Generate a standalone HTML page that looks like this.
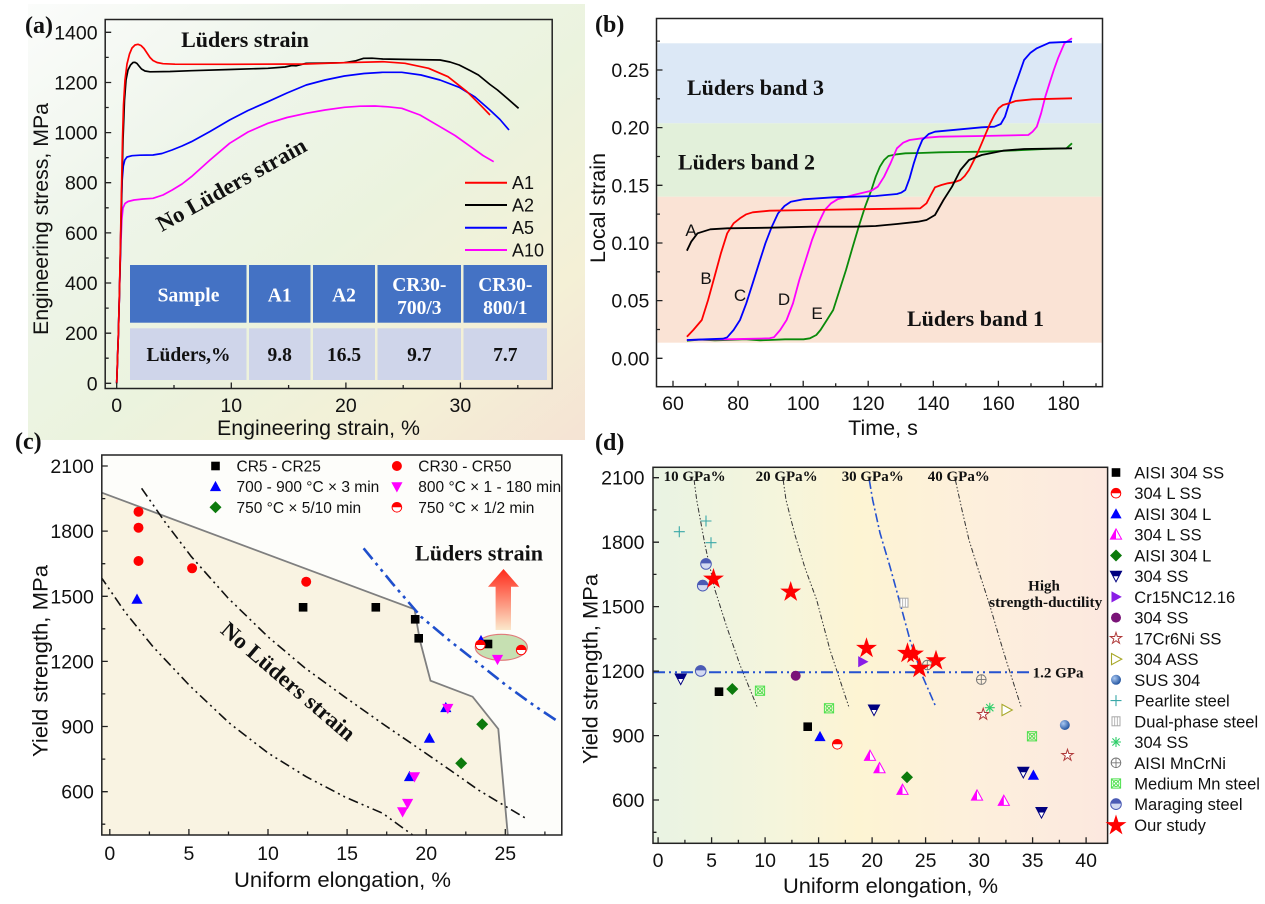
<!DOCTYPE html>
<html><head><meta charset="utf-8">
<style>
html,body{margin:0;padding:0;background:#fff;}
svg{display:block;}
.tk{font-family:"Liberation Sans",sans-serif;font-size:19.5px;fill:#111;}
.tt{font-family:"Liberation Sans",sans-serif;font-size:21.5px;fill:#111;}
.bs{font-family:"Liberation Serif",serif;font-weight:bold;fill:#111;}
.lg{font-family:"Liberation Sans",sans-serif;fill:#111;}
</style></head>
<body>
<svg width="1265" height="904" viewBox="0 0 1265 904" xmlns="http://www.w3.org/2000/svg">
<defs>
  <linearGradient id="bgA" x1="0" y1="0" x2="1" y2="1">
    <stop offset="0" stop-color="#fbfcfb"/>
    <stop offset="0.3" stop-color="#eef5ea"/>
    <stop offset="0.55" stop-color="#ebf3de"/>
    <stop offset="0.8" stop-color="#f4f0d6"/>
    <stop offset="1" stop-color="#f5e3d4"/>
  </linearGradient>
  <linearGradient id="bgD" x1="0" y1="0" x2="1" y2="0">
    <stop offset="0" stop-color="#e9f3e3"/>
    <stop offset="0.28" stop-color="#f5f5dc"/>
    <stop offset="0.45" stop-color="#fdf4d3"/>
    <stop offset="0.72" stop-color="#fdefdc"/>
    <stop offset="1" stop-color="#fce8df"/>
  </linearGradient>
  <linearGradient id="arr" x1="0" y1="0" x2="0" y2="1">
    <stop offset="0" stop-color="#ff2a1a"/>
    <stop offset="1" stop-color="#fbe9cc"/>
  </linearGradient>
  <radialGradient id="sph" cx="0.35" cy="0.35" r="0.7">
    <stop offset="0" stop-color="#a9c8f2"/>
    <stop offset="1" stop-color="#1d4f9c"/>
  </radialGradient>
  <clipPath id="clipC"><rect x="101.8" y="455" width="460" height="380"/></clipPath>
  <clipPath id="clipD"><rect x="653" y="467.3" width="454.6" height="376"/></clipPath>

  <g id="msq"><rect x="-4.3" y="-4.3" width="8.6" height="8.6" fill="#000"/></g>
  <g id="mci"><circle r="5" fill="#ff0000"/></g>
  <g id="mtu"><polygon points="0,-5.8 5.6,4.4 -5.6,4.4" fill="#0000ff"/></g>
  <g id="mtd"><polygon points="-5.6,-4.4 5.6,-4.4 0,5.8" fill="#ff00ff"/></g>
  <g id="mdi"><polygon points="0,-6 6,0 0,6 -6,0" fill="#0c7a0c"/></g>
  <g id="mhc"><circle r="4.8" fill="#fff" stroke="#ff0000" stroke-width="1"/><path d="M-4.8,0 A4.8,4.8 0 0 1 4.8,0 Z" fill="#ff0000"/></g>
  <g id="mht"><polygon points="0,-5.8 5.6,4.4 -5.6,4.4" fill="#fff" stroke="#ff00ff" stroke-width="1"/><polygon points="0,-5.8 0,4.4 -5.6,4.4" fill="#ff00ff"/></g>
  <g id="mnd"><polygon points="-5.6,-5 5.6,-5 0,5.6" fill="#fff" stroke="#000080" stroke-width="1"/><polygon points="-5.6,-5 5.6,-5 2.9,0 -2.9,0" fill="#000080"/></g>
  <g id="mpr"><polygon points="-4.5,-5.6 5.8,0 -4.5,5.6" fill="#8a1ee6"/></g>
  <g id="mpc"><circle r="5" fill="#7a1478"/></g>
  <g id="mos"><polygon points="0,-6 1.35,-1.85 5.71,-1.85 2.18,0.71 3.53,4.85 0,2.29 -3.53,4.85 -2.18,0.71 -5.71,-1.85 -1.35,-1.85" fill="#fff" stroke="#b03a3a" stroke-width="1"/></g>
  <g id="mor"><polygon points="-4.5,-5.6 5.8,0 -4.5,5.6" fill="#fff" stroke="#a8a82a" stroke-width="1.1"/></g>
  <g id="msp"><circle r="5" fill="url(#sph)"/></g>
  <g id="mpl"><path d="M-5.5,0H5.5M0,-5.5V5.5" stroke="#3aa8a8" stroke-width="1.1"/></g>
  <g id="mdp"><rect x="-4" y="-4.5" width="8" height="9" fill="#fff" stroke="#a8a8a8" stroke-width="1"/><path d="M-1.3,-4.5V4.5M1.3,-4.5V4.5" stroke="#a8a8a8" stroke-width="0.8"/></g>
  <g id="mas"><path d="M-5,0H5M0,-5V5M-3.6,-3.6L3.6,3.6M-3.6,3.6L3.6,-3.6" stroke="#2fce6a" stroke-width="1.1"/></g>
  <g id="mop"><circle r="4.8" fill="none" stroke="#777" stroke-width="1"/><path d="M-4.8,0H4.8M0,-4.8V4.8" stroke="#777" stroke-width="0.9"/></g>
  <g id="mmn"><rect x="-4.6" y="-4.6" width="9.2" height="9.2" fill="none" stroke="#4be04b" stroke-width="1"/><path d="M-4.6,-4.6L4.6,4.6M-4.6,4.6L4.6,-4.6" stroke="#4be04b" stroke-width="0.9"/><circle r="3" fill="none" stroke="#4be04b" stroke-width="0.9"/></g>
  <g id="mma"><circle r="5.3" fill="#d3daf1" stroke="#4b5bb5" stroke-width="1"/><path d="M-5.3,-0.6 A5.3,5.3 0 0 1 5.3,-0.6 Z" fill="#4b5bb5"/></g>
  <g id="mst"><polygon points="0,-11 2.47,-3.4 10.46,-3.4 4,1.3 6.47,8.9 0,4.2 -6.47,8.9 -4,1.3 -10.46,-3.4 -2.47,-3.4" fill="#ff0000"/></g>
</defs>

<!-- ================= PANEL (a) ================= -->
<rect x="28" y="4" width="557" height="436" fill="url(#bgA)"/>
<text class="bs" x="25" y="33" font-size="24">(a)</text>
<g fill="none" stroke-width="1.7" stroke-linejoin="round">
<path stroke="#ff00ff" d="M116.7,383.3 L118.5,330 L119.8,280 L120.8,245 L121.8,220 L123,208 L125,203.5 L128,201.5 L134,200 L143,199 L153,198.3 L163,195 L172.2,190 L182,184 L191.4,176.7 L210,160 L229.6,143.3 L248,132 L267.9,123.3 L287,117.5 L306.2,113.3 L325,110 L344.4,107.3 L360,106.2 L375,106 L388,106.8 L401.8,108.3 L420,115 L440,126.7 L455,135.5 L470.7,146.7 L483,155.5 L493.7,161.7"/>
<path stroke="#0000ff" d="M116.7,383.3 L118.5,330 L120,270 L121.2,215 L122.2,180 L123.3,166 L124.8,160 L127,157 L132,155.7 L140,155.2 L153,155 L162,153.5 L172,150 L182,146 L191.4,141.7 L210,131.5 L229.6,120 L248,110.5 L267.9,101.7 L287,93 L306.2,85 L325,80 L344.4,76 L364,73.5 L382.7,72.3 L401.8,72.3 L421,75 L440,80 L459.2,87.3 L475,97 L489.9,110 L500,119.5 L509,130"/>
<path stroke="#000" d="M116.7,383.3 L118.5,330 L120,270 L121.5,200 L123,140 L124.5,100 L126,80 L128,70 L130.5,65 L133,62.5 L135,62.3 L137,63.5 L139,66 L141.5,69 L145,71 L150,71.8 L170,71.5 L191.4,70.7 L230,69.5 L267.9,68.3 L285,67 L292,65.5 L296,65.8 L306.2,63.3 L344.4,62.7 L355,61 L363.6,58.3 L372,58.2 L382.7,59 L410,59.5 L440.1,60 L450,62 L459.2,65 L470,70.5 L478.4,75 L490,84.5 L497.5,90 L508,99 L518.6,108.3"/>
<path stroke="#ff0000" d="M116.7,383.3 L118.5,330 L119.5,290 L120.5,240 L121.5,190 L122.5,140 L123.5,105 L125,80 L127,64 L129.5,54 L132,48 L135,45 L138,44.3 L141,45.5 L144,48.5 L147,53 L150,57.5 L153,60.5 L157,62.5 L163,63.7 L175,64.2 L230,64.3 L306,64 L344,62.7 L383,61.7 L405,63.3 L428.6,68.3 L448,76.7 L467,91.7 L482,106.7 L490,115"/>
</g>
<g stroke-width="2">
<line x1="465" y1="182.7" x2="507" y2="182.7" stroke="#ff0000"/>
<line x1="465" y1="205" x2="507" y2="205" stroke="#000"/>
<line x1="465" y1="227.7" x2="507" y2="227.7" stroke="#0000ff"/>
<line x1="465" y1="250" x2="507" y2="250" stroke="#ff00ff"/>
</g>
<g class="lg" font-size="18">
<text x="512" y="189">A1</text><text x="512" y="211.5">A2</text><text x="512" y="234">A5</text><text x="512" y="256.5">A10</text>
</g>
<text class="bs" x="245" y="47" font-size="22" text-anchor="middle">Lüders strain</text>
<text class="bs" font-size="22.5" text-anchor="middle" transform="translate(231.6,185) rotate(-29.2)" y="7" textLength="168" lengthAdjust="spacingAndGlyphs">No Lüders strain</text>
<g>
<rect x="130" y="265" width="116.5" height="57.7" fill="#4472c4"/>
<rect x="249" y="265" width="61.5" height="57.7" fill="#4472c4"/>
<rect x="313" y="265" width="62" height="57.7" fill="#4472c4"/>
<rect x="377.5" y="265" width="83.5" height="57.7" fill="#4472c4"/>
<rect x="463.5" y="265" width="83.5" height="57.7" fill="#4472c4"/>
<rect x="130" y="328.3" width="116.5" height="51.7" fill="#cfd5ea"/>
<rect x="249" y="328.3" width="61.5" height="51.7" fill="#cfd5ea"/>
<rect x="313" y="328.3" width="62" height="51.7" fill="#cfd5ea"/>
<rect x="377.5" y="328.3" width="83.5" height="51.7" fill="#cfd5ea"/>
<rect x="463.5" y="328.3" width="83.5" height="51.7" fill="#cfd5ea"/>
</g>
<g class="bs" font-size="19.5" text-anchor="middle" style="fill:#fff">
<text x="188.5" y="301.5">Sample</text>
<text x="279.7" y="301.5">A1</text>
<text x="344" y="301.5">A2</text>
<text x="419.3" y="291">CR30-</text><text x="419.3" y="314">700/3</text>
<text x="505.3" y="291">CR30-</text><text x="505.3" y="314">800/1</text>
</g>
<g class="bs" font-size="19.5" text-anchor="middle">
<text x="188.5" y="361">Lüders,%</text>
<text x="279.7" y="361">9.8</text>
<text x="344" y="361">16.5</text>
<text x="419.3" y="361">9.7</text>
<text x="505.3" y="361">7.7</text>
</g>
<rect x="105.2" y="19.5" width="447" height="369" fill="none" stroke="#222" stroke-width="1.5"/>
<path stroke="#222" stroke-width="1.3" fill="none" d="M116.7,388.5v-6M231.3,388.5v-6M345.9,388.5v-6M460.4,388.5v-6M174,388.5v-3.5M288.6,388.5v-3.5M403.2,388.5v-3.5M517.8,388.5v-3.5M105.2,383.3h6M105.2,333.2h6M105.2,283h6M105.2,232.9h6M105.2,182.7h6M105.2,132.6h6M105.2,82.5h6M105.2,32.3h6M105.2,358.2h3.5M105.2,308.1h3.5M105.2,258h3.5M105.2,207.8h3.5M105.2,157.7h3.5M105.2,107.5h3.5M105.2,57.4h3.5"/>
<g class="tk" text-anchor="end">
<text x="97.6" y="390.3">0</text><text x="97.6" y="340.2">200</text><text x="97.6" y="290">400</text><text x="97.6" y="239.9">600</text><text x="97.6" y="189.7">800</text><text x="97.6" y="139.6">1000</text><text x="97.6" y="89.5">1200</text><text x="97.6" y="39.3">1400</text>
</g>
<g class="tk" text-anchor="middle">
<text x="116.7" y="412">0</text><text x="231.3" y="412">10</text><text x="345.9" y="412">20</text><text x="460.4" y="412">30</text>
</g>
<text class="tt" x="318.5" y="435" text-anchor="middle" textLength="203" lengthAdjust="spacingAndGlyphs">Engineering strain, %</text>
<text class="tt" text-anchor="middle" transform="translate(48,219) rotate(-90)" textLength="232" lengthAdjust="spacingAndGlyphs">Engineering stress, MPa</text>

<!-- ================= PANEL (b) ================= -->
<text class="bs" x="595" y="32" font-size="24">(b)</text>
<rect x="657.5" y="43.3" width="444.5" height="80" fill="#dce8f6"/>
<rect x="657.5" y="123.3" width="444.5" height="73.4" fill="#e2f0da"/>
<rect x="657.5" y="196.7" width="444.5" height="146" fill="#fae3d5"/>
<text class="bs" x="687" y="95" font-size="22">Lüders band 3</text>
<text class="bs" x="678" y="169.3" font-size="22">Lüders band 2</text>
<text class="bs" x="907" y="326" font-size="22">Lüders band 1</text>
<g fill="none" stroke-width="1.8" stroke-linejoin="round">
<path stroke="#0a8a0a" d="M686.9,340.7 L700,339.6 L715,340.4 L727.2,340 L745,339.2 L760,340.3 L769.6,340 L785,339.3 L803.6,339.3 L809.9,338.3 L816.3,335 L820.5,330 L826.9,320 L833.2,310 L839.6,290 L846,270 L852.3,248.3 L858.7,226.7 L865.1,206.7 L871.4,190 L875.7,176.7 L879.9,166.7 L884.1,160 L888.4,156 L896.9,154.3 L905.3,153.3 L920,153 L939.3,152.3 L960,152 L981.7,151.7 L1000,151 L1024.1,150 L1045,149 L1066.5,148.3 L1072,143.3"/>
<path stroke="#ff00ff" d="M686.9,340 L705,339.5 L727.2,339.3 L750,338.8 L769.6,338.3 L773.9,337.3 L780.2,330 L786.6,320 L793,303.3 L799.3,280 L805.7,260 L812,240 L818.4,223.3 L824.8,210 L831.1,203.3 L837.5,199.3 L854.5,194.7 L871.4,190.7 L877.8,186.7 L884.1,176.7 L890.5,163.3 L896.9,148.3 L903.2,142.7 L909.6,140 L926.5,137.7 L939.3,136.7 L981.7,136 L1028.3,135 L1032.6,131.7 L1036.8,126.7 L1041.1,113.3 L1045.3,96.7 L1049.5,83.3 L1053.8,70 L1058,58.3 L1064.4,43.3 L1072,38.3"/>
<path stroke="#0000ff" d="M686.9,340 L706,339.3 L723,338.7 L727.2,337.3 L733.6,330 L740,320 L746.3,303.3 L752.7,283.3 L759,263.3 L765.4,243.3 L771.8,226.7 L778.1,213.3 L784.5,206 L790.8,201.7 L803.6,199.3 L833.2,197.3 L875.7,196 L896.9,194 L901.1,192.7 L905.3,190 L909.6,178.3 L913.8,163.3 L918.1,150 L922.3,140 L928.7,134 L935,131.7 L960.5,129.3 L981.7,127.3 L994.4,126.7 L1000.8,124 L1005,116.7 L1009.2,103.3 L1013.5,90 L1017.7,78.3 L1024.1,60 L1030.5,52.7 L1036.8,48.3 L1049.5,42.7 L1072,41.7"/>
<path stroke="#ff0000" d="M686.9,336.7 L693.3,330 L701.8,320 L708.1,300 L714.5,276.7 L720.9,253.3 L727.2,233.3 L733.6,223.3 L740,218.3 L746.3,214.3 L752.7,212.3 L769.6,210.7 L812,210 L854.5,209.3 L896.9,208.7 L920.2,208.3 L926.5,203.3 L930.8,195 L935,187.3 L941.4,185 L947.8,183.3 L954.1,182.3 L960.5,180 L964.7,176 L969,170 L973.2,161.7 L977.4,153.3 L981.7,143.3 L985.9,133.3 L990.2,123.3 L994.4,115 L998.6,108.3 L1002.9,105 L1009.2,103.3 L1015.6,101 L1032.6,99.3 L1072,98.3"/>
<path stroke="#000" d="M686.9,250.7 L691.2,241.7 L697.5,233.3 L710.3,229.3 L727.2,228.3 L769.6,227.7 L812,226.7 L854.5,226.7 L875.7,226 L896.9,224 L918.1,221.7 L926.5,220 L935,215 L943.5,200 L952,186.7 L960.5,170 L969,160 L981.7,155 L1002.9,150.7 L1024.1,149 L1072,148.3"/>
</g>
<g class="lg" font-size="17" text-anchor="middle">
<text x="691" y="236">A</text><text x="706" y="284">B</text><text x="740" y="301">C</text><text x="784" y="305">D</text><text x="817" y="319">E</text>
</g>
<rect x="656.5" y="18.5" width="446" height="368.2" fill="none" stroke="#222" stroke-width="1.5"/>
<path stroke="#222" stroke-width="1.3" fill="none" d="M673,386.7v-6M738.1,386.7v-6M803.2,386.7v-6M868.2,386.7v-6M933.3,386.7v-6M998.4,386.7v-6M1063.5,386.7v-6M705.5,386.7v-3.5M770.6,386.7v-3.5M835.7,386.7v-3.5M900.8,386.7v-3.5M965.9,386.7v-3.5M1031,386.7v-3.5M1096,386.7v-3.5M656.5,358.3h6M656.5,300.6h6M656.5,243h6M656.5,185.3h6M656.5,127.6h6M656.5,70h6M656.5,329.5h3.5M656.5,271.8h3.5M656.5,214.1h3.5M656.5,156.5h3.5M656.5,98.8h3.5M656.5,41.1h3.5"/>
<g class="tk" text-anchor="end">
<text x="649.3" y="365.3">0.00</text><text x="649.3" y="307.6">0.05</text><text x="649.3" y="250">0.10</text><text x="649.3" y="192.3">0.15</text><text x="649.3" y="134.6">0.20</text><text x="649.3" y="77">0.25</text>
</g>
<g class="tk" text-anchor="middle">
<text x="673" y="410">60</text><text x="738.1" y="410">80</text><text x="803.2" y="410">100</text><text x="868.2" y="410">120</text><text x="933.3" y="410">140</text><text x="998.4" y="410">160</text><text x="1063.5" y="410">180</text>
</g>
<text class="tt" x="883" y="435" text-anchor="middle">Time, s</text>
<text class="tt" text-anchor="middle" transform="translate(605,208) rotate(-90)" textLength="110" lengthAdjust="spacingAndGlyphs">Local strain</text>

<!-- ================= PANEL (c) ================= -->
<text class="bs" x="15" y="449" font-size="24">(c)</text>
<g clip-path="url(#clipC)">
<rect x="101.8" y="455" width="460" height="380" fill="#fdfdfa"/>
<polygon points="101.8,492.7 414.5,609.3 419.8,640 430.5,680.7 472.6,696.7 498.3,729 507.8,835 101.8,835" fill="#f9f3e2"/>
<polyline points="101.8,492.7 414.5,609.3 419.8,640 430.5,680.7 472.6,696.7 498.3,729 507.8,835" fill="none" stroke="#7f7f7f" stroke-width="1.8"/>
<polyline points="141.6,488.3 165,522 191.4,556.7 228,598 267.9,636.7 305,668 344.4,696.7 383,724 421,750 450,770 478.4,790 505,806 527.4,819.3" fill="none" stroke="#111" stroke-width="1.6" stroke-dasharray="10 4 2 4 2 4"/>
<polyline points="100.3,576 125,612 153,646.7 190,686 229.6,723.3 268,753 306.2,776.7 345,797 382.7,813.3 412.6,835" fill="none" stroke="#111" stroke-width="1.6" stroke-dasharray="10 4 2 4 2 4"/>
<polyline points="363.6,548.3 392,583 421,616.7 450,641 478.4,663.3 507,686 535.8,706.7 556.8,720.7" fill="none" stroke="#1f4fcc" stroke-width="2.6" stroke-dasharray="14 5 3 5 3 5"/>
</g>
<text class="bs" x="415" y="560.5" font-size="22" textLength="128" lengthAdjust="spacingAndGlyphs">Lüders strain</text>
<polygon points="503.5,569 519,586.7 511,586.7 511,630 495.6,630 495.6,586.7 488,586.7" fill="url(#arr)"/>
<ellipse cx="501.3" cy="647.3" rx="26" ry="13" fill="#c6e0b2" stroke="#e07a7a" stroke-width="1.2"/>
<text class="bs" font-size="22.5" text-anchor="middle" transform="translate(288,681.7) rotate(40.7)" y="7" textLength="169" lengthAdjust="spacingAndGlyphs">No Lüders strain</text>
<g>
<use href="#mci" x="138.5" y="511.7"/><use href="#mci" x="138.5" y="527.7"/><use href="#mci" x="138.5" y="561"/><use href="#mci" x="192.1" y="568.3"/><use href="#mci" x="306.2" y="581.7"/>
<use href="#mtu" x="137" y="599.3"/><use href="#mtu" x="429.4" y="738.3"/><use href="#mtu" x="409.5" y="776.7"/><use href="#mtu" x="445.8" y="707.7"/><use href="#mtu" x="481" y="640.7"/>
<use href="#msq" x="303.1" y="607.3"/><use href="#msq" x="375.8" y="607.3"/><use href="#msq" x="415.2" y="619.3"/><use href="#msq" x="418.7" y="638.3"/><use href="#msq" x="488" y="644"/>
<use href="#mtd" x="447.8" y="708.3"/><use href="#mtd" x="414.5" y="776.7"/><use href="#mtd" x="407.6" y="803.3"/><use href="#mtd" x="402.6" y="811.7"/><use href="#mtd" x="497.5" y="659.3"/>
<use href="#mdi" x="482.2" y="724.3"/><use href="#mdi" x="461.2" y="763.3"/>
<use href="#mhc" x="480.3" y="645"/><use href="#mhc" x="521.2" y="650"/>
</g>
<use href="#msq" x="215.5" y="466"/><use href="#mci" x="396.9" y="466"/>
<use href="#mtu" x="215.5" y="486.7"/><use href="#mtd" x="396.9" y="486.7"/>
<use href="#mdi" x="215.5" y="507.3"/><use href="#mhc" x="396.9" y="507.3"/>
<g class="lg" font-size="15.5">
<text x="236.5" y="471.5">CR5 - CR25</text><text x="418.3" y="471.5">CR30 - CR50</text>
<text x="236.5" y="492.2">700 - 900 °C × 3 min</text><text x="418.3" y="492.2">800 °C × 1 - 180 min</text>
<text x="236.5" y="512.8">750 °C × 5/10 min</text><text x="418.3" y="512.8">750 °C × 1/2 min</text>
</g>
<rect x="101.8" y="455" width="460" height="380" fill="none" stroke="#222" stroke-width="1.5"/>
<path stroke="#222" stroke-width="1.3" fill="none" d="M109.8,835v-6M188.9,835v-6M268,835v-6M347.1,835v-6M426.2,835v-6M505.3,835v-6M149.4,835v-3.5M228.5,835v-3.5M307.6,835v-3.5M386.7,835v-3.5M465.8,835v-3.5M544.9,835v-3.5M101.8,466h6M101.8,531.1h6M101.8,596.3h6M101.8,661.4h6M101.8,726.5h6M101.8,791.7h6M101.8,498.6h3.5M101.8,563.7h3.5M101.8,628.8h3.5M101.8,693.9h3.5M101.8,759.1h3.5M101.8,824.2h3.5"/>
<g class="tk" text-anchor="end">
<text x="93.8" y="473">2100</text><text x="93.8" y="538.1">1800</text><text x="93.8" y="603.3">1500</text><text x="93.8" y="668.4">1200</text><text x="93.8" y="733.5">900</text><text x="93.8" y="798.7">600</text>
</g>
<g class="tk" text-anchor="middle">
<text x="109.8" y="860">0</text><text x="188.9" y="860">5</text><text x="268" y="860">10</text><text x="347.1" y="860">15</text><text x="426.2" y="860">20</text><text x="505.3" y="860">25</text>
</g>
<text class="tt" x="342.5" y="887" text-anchor="middle" textLength="217" lengthAdjust="spacingAndGlyphs">Uniform elongation, %</text>
<text class="tt" text-anchor="middle" transform="translate(47.5,661) rotate(-90)" textLength="192" lengthAdjust="spacingAndGlyphs">Yield strength, MPa</text>

<!-- ================= PANEL (d) ================= -->
<text class="bs" x="595" y="450" font-size="24">(d)</text>
<g clip-path="url(#clipD)">
<rect x="653" y="467.3" width="454.6" height="376" fill="url(#bgD)"/>
<polyline points="694.1,480 696.7,500 705,545 715,590 726.7,626.7 740,665 757.3,707.3" fill="none" stroke="#333" stroke-width="1" stroke-dasharray="5 2 1.5 2 1.5 2"/>
<polyline points="783.2,480 786,500 795,535 805,568 816.7,600 830,650 849.3,708.3" fill="none" stroke="#333" stroke-width="1" stroke-dasharray="5 2 1.5 2 1.5 2"/>
<polyline points="869.3,480 872.7,500 880,533 890,566.7 900,603 910,640 922,675 936,707.3" fill="none" stroke="#2552d0" stroke-width="1.6" stroke-dasharray="9 3 2 3"/>
<polyline points="955.4,480 962,510 969,540 980,575 990.2,606.7 1000,640 1007.1,663.3 1021.1,706.7" fill="none" stroke="#333" stroke-width="1" stroke-dasharray="5 2 1.5 2 1.5 2"/>
<line x1="653" y1="672.3" x2="1030.5" y2="672.3" stroke="#2552d0" stroke-width="2" stroke-dasharray="12 4 2 4 2 4"/>
</g>
<g class="bs" font-size="15">
<text x="663.6" y="481" textLength="62" lengthAdjust="spacingAndGlyphs">10 GPa%</text>
<text x="755.6" y="481" textLength="62" lengthAdjust="spacingAndGlyphs">20 GPa%</text>
<text x="841.7" y="481" textLength="62" lengthAdjust="spacingAndGlyphs">30 GPa%</text>
<text x="927.8" y="481" textLength="62" lengthAdjust="spacingAndGlyphs">40 GPa%</text>
<text x="1044" y="590.5" text-anchor="middle">High</text>
<text x="1045.7" y="607" text-anchor="middle" textLength="113" lengthAdjust="spacingAndGlyphs">strength-ductility</text>
<text x="1032.6" y="677.5" textLength="51" lengthAdjust="spacingAndGlyphs">1.2 GPa</text>
</g>
<g>
<use href="#mpl" x="679.3" y="531.7"/><use href="#mpl" x="706" y="521"/><use href="#mpl" x="711" y="542.7"/>
<use href="#mma" x="706" y="564"/><use href="#mma" x="702.7" y="585.7"/><use href="#mma" x="700.7" y="671"/>
<use href="#mnd" x="680.7" y="679"/><use href="#mnd" x="874" y="710"/><use href="#mnd" x="1023.3" y="772.3"/><use href="#mnd" x="1041.5" y="812.5"/>
<use href="#mpc" x="795.7" y="675.7"/>
<use href="#mpr" x="862.7" y="661.7"/>
<use href="#msq" x="719" y="691.7"/><use href="#msq" x="807.7" y="726.7"/>
<use href="#mdi" x="732.3" y="689"/><use href="#mdi" x="907" y="777.3"/>
<use href="#mmn" x="760" y="690.7"/><use href="#mmn" x="829" y="708.3"/><use href="#mmn" x="1032" y="736.3"/>
<use href="#mtu" x="820" y="736.7"/><use href="#mtu" x="1033.4" y="775.3"/>
<use href="#mhc" x="837.3" y="744.3"/>
<use href="#mht" x="870" y="756"/><use href="#mht" x="879.5" y="768.3"/><use href="#mht" x="902.5" y="790"/><use href="#mht" x="977" y="795.7"/><use href="#mht" x="1003.8" y="801"/>
<use href="#mdp" x="904" y="602.7"/>
<use href="#mop" x="927.3" y="665"/><use href="#mop" x="981.3" y="679.6"/>
<use href="#mos" x="983.2" y="714.3"/><use href="#mos" x="1067.5" y="755.3"/>
<use href="#mas" x="989.8" y="707.7"/>
<use href="#mor" x="1006.5" y="710"/>
<use href="#msp" x="1064.8" y="725"/>
<use href="#mst" x="713.5" y="579"/><use href="#mst" x="790.7" y="592"/><use href="#mst" x="866.5" y="648.3"/><use href="#mst" x="907.5" y="653.3"/><use href="#mst" x="913.5" y="654"/><use href="#mst" x="936" y="660.7"/><use href="#mst" x="919.5" y="668.3"/>
</g>
<rect x="653" y="467.3" width="454.6" height="376" fill="none" stroke="#222" stroke-width="1.5"/>
<path stroke="#222" stroke-width="1.3" fill="none" d="M658.1,843.3v-6M711.6,843.3v-6M765.1,843.3v-6M818.6,843.3v-6M872.1,843.3v-6M925.6,843.3v-6M979.1,843.3v-6M1032.6,843.3v-6M1086.1,843.3v-6M684.9,843.3v-3.5M738.4,843.3v-3.5M791.9,843.3v-3.5M845.4,843.3v-3.5M898.9,843.3v-3.5M952.4,843.3v-3.5M1005.9,843.3v-3.5M1059.4,843.3v-3.5M653,477.7h6M653,542.2h6M653,606.6h6M653,671.1h6M653,735.6h6M653,800h6M653,509.9h3.5M653,574.4h3.5M653,638.9h3.5M653,703.4h3.5M653,767.8h3.5M653,832.3h3.5"/>
<g class="tk" text-anchor="end">
<text x="644.5" y="484.7">2100</text><text x="644.5" y="549.2">1800</text><text x="644.5" y="613.6">1500</text><text x="644.5" y="678.1">1200</text><text x="644.5" y="742.6">900</text><text x="644.5" y="807">600</text>
</g>
<g class="tk" text-anchor="middle">
<text x="658.1" y="867">0</text><text x="711.6" y="867">5</text><text x="765.1" y="867">10</text><text x="818.6" y="867">15</text><text x="872.1" y="867">20</text><text x="925.6" y="867">25</text><text x="979.1" y="867">30</text><text x="1032.6" y="867">35</text><text x="1086.1" y="867">40</text>
</g>
<text class="tt" x="890.5" y="893" text-anchor="middle" textLength="215" lengthAdjust="spacingAndGlyphs">Uniform elongation, %</text>
<text class="tt" text-anchor="middle" transform="translate(597.5,669) rotate(-90)" textLength="190" lengthAdjust="spacingAndGlyphs">Yield strength, MPa</text>
<g>
<use href="#msq" x="1116" y="472.5"/>
<use href="#mhc" x="1116" y="493.2"/>
<use href="#mtu" x="1116" y="514"/>
<use href="#mht" x="1116" y="534.7"/>
<use href="#mdi" x="1116" y="555.5"/>
<use href="#mnd" x="1116" y="576.2"/>
<use href="#mpr" x="1116" y="596.9"/>
<use href="#mpc" x="1116" y="617.6"/>
<use href="#mos" x="1116" y="638.4"/>
<use href="#mor" x="1116" y="659.1"/>
<use href="#msp" x="1116" y="679.8"/>
<use href="#mpl" x="1116" y="700.6"/>
<use href="#mdp" x="1116" y="721.3"/>
<use href="#mas" x="1116" y="742"/>
<use href="#mop" x="1116" y="762.8"/>
<use href="#mmn" x="1116" y="783.5"/>
<use href="#mma" x="1116" y="804.2"/>
<use href="#mst" x="1116" y="825.5"/>
</g>
<g class="lg" font-size="16.5">
<text x="1134.3" y="478.5">AISI 304 SS</text>
<text x="1134.3" y="499.2">304 L SS</text>
<text x="1134.3" y="520">AISI 304 L</text>
<text x="1134.3" y="540.7">304 L SS</text>
<text x="1134.3" y="561.5">AISI 304 L</text>
<text x="1134.3" y="582.2">304 SS</text>
<text x="1134.3" y="602.9">Cr15NC12.16</text>
<text x="1134.3" y="623.6">304 SS</text>
<text x="1134.3" y="644.4">17Cr6Ni SS</text>
<text x="1134.3" y="665.1">304 ASS</text>
<text x="1134.3" y="685.8">SUS 304</text>
<text x="1134.3" y="706.6">Pearlite steel</text>
<text x="1134.3" y="727.3">Dual-phase steel</text>
<text x="1134.3" y="748">304 SS</text>
<text x="1134.3" y="768.8">AISI MnCrNi</text>
<text x="1134.3" y="789.5">Medium Mn steel</text>
<text x="1134.3" y="810.2">Maraging steel</text>
<text x="1134.3" y="831">Our study</text>
</g>
</svg>
</body></html>
